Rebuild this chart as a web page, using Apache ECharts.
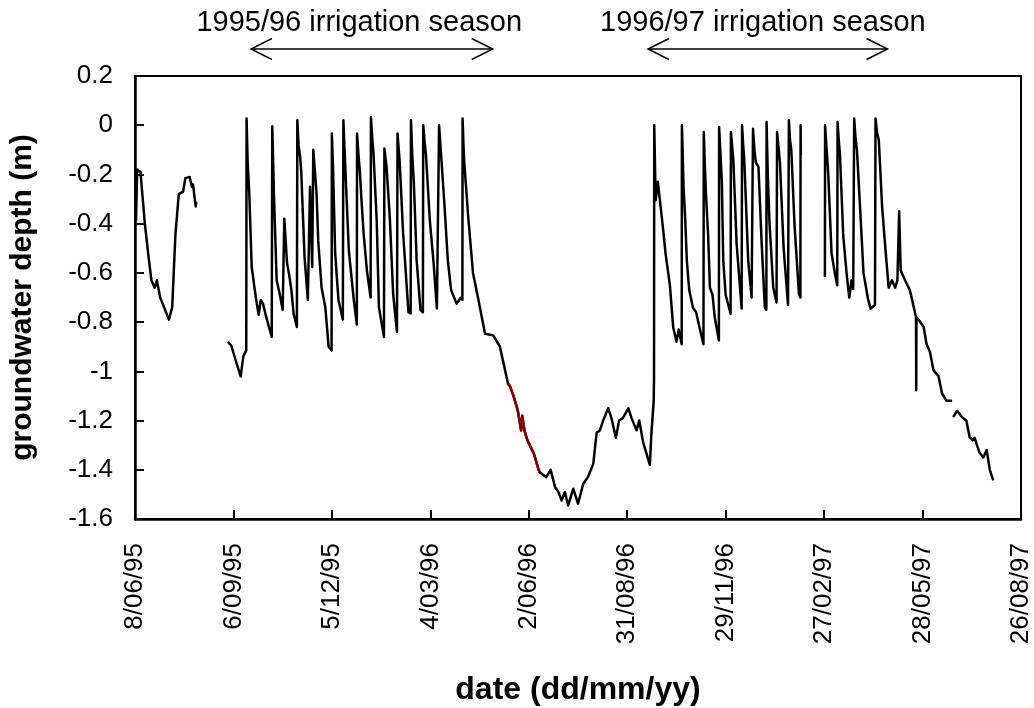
<!DOCTYPE html>
<html><head><meta charset="utf-8">
<script src="https://cdn.jsdelivr.net/npm/echarts@6/dist/echarts.min.js"></script>
<style>html,body{margin:0;padding:0;background:#fff}#c{width:1034px;height:708px}</style>
</head><body><div id="c"></div>
<script>
// days since 8 June 1995
const obsDay = [
 0.9,2,5,9,12,15,18,20,23,27,31,34,37,38,40,44,46,50,52,53,55.5,56,
 70,
 85,88,92,96.6,99,101.7,102,103,104.5,106.7,110,113,115,117,120,125,125.5,126.3,127,129.5,132,135,136.5,139,141,143,145,148,148.4,149.5,
 151,152,155,158,160,162,163,166,167.5,170.6,174,177,179.7,180,181,183,186,190,190.5,192,195.5,200,202.8,203,204.5,205.7,207,209,212,215.4,215.7,
 217,218,221,223,227.6,228,230,233,236,239.5,240,242,245,250,252,252.3,253.5,255,257.5,261,263.2,263.5,264.8,266,269.6,273,276,277.7,278,279.5,
 281,283,286,289,294,298,299.3,299.5,300.3,301,304.6,309,314,320,327.5,333.6,341,342.8,346,350,353,354,356,358.7,362,364.7,367,369,370,
 373,376,380,384,387,390,393,396,400.7,405,409.8,414,419,422,425,428,432.6,435.6,439.6,442.6,446,451,454,458.5,461,464.6,467.7,470.7,472,474.2,474.5,474.7,
 476,478,481,483,485,489,492,495,497,499.8,500,501.5,503,504.5,506.7,510,513,516.5,519.7,520,521,522,524,525.6,528,530,533.8,534,535.3,536.5,537.8,540,544.5,544.8,
 546,547,550,554.6,555,556,557,560.6,563.7,565,566.3,567.5,570,572.8,575.8,577.2,577.4,578.5,580,583.5,586.5,587,588.3,589.6,593,597,597.8,598.8,600,603,607,608.3,608.5,608.7,
 620,
 630.7,630.9,632.2,633.8,636.8,639.8,642,642.3,643.4,644.5,647.5,650.5,653,655,656.6,657.5,658.7,660,663,666,670.3,672.5,676.5,677,678.4,680,683,686,689,692,695,697,698.6,
 700,704,708.4,711.5,714,714.2,714.4,718,721,723.6,726.7,730,734.6,737.8,742,747,
 747.5,
 748,751.6,756,760,763,766,767.6,772,775.6,778.6,781.5,784.6
];
const obsDepth = [
 -0.39,-0.18,-0.19,-0.40,-0.52,-0.63,-0.66,-0.63,-0.70,-0.745,-0.79,-0.74,-0.44,-0.39,-0.28,-0.27,-0.215,-0.21,-0.25,-0.24,-0.33,-0.31,
 null,
 -0.88,-0.895,-0.955,-1.02,-0.94,-0.915,0.027,-0.15,-0.28,-0.576,-0.685,-0.77,-0.71,-0.725,-0.78,-0.86,-0.004,-0.15,-0.28,-0.63,-0.68,-0.75,-0.38,-0.56,-0.61,-0.67,-0.766,-0.82,0.02,-0.08,
 -0.13,-0.19,-0.535,-0.71,-0.25,-0.576,-0.10,-0.28,-0.47,-0.66,-0.74,-0.90,-0.915,-0.034,-0.17,-0.52,-0.71,-0.79,0.02,-0.145,-0.51,-0.71,-0.81,-0.034,-0.13,-0.197,-0.30,-0.44,-0.59,-0.70,0.033,
 -0.06,-0.11,-0.39,-0.74,-0.86,-0.095,-0.17,-0.38,-0.685,-0.84,-0.034,-0.15,-0.43,-0.76,-0.765,0.02,-0.12,-0.24,-0.55,-0.75,-0.76,0.0,-0.07,-0.12,-0.39,-0.56,-0.745,-0.74,0.0,-0.10,
 -0.197,-0.33,-0.55,-0.67,-0.725,-0.70,-0.71,0.027,-0.08,-0.15,-0.37,-0.60,-0.71,-0.847,-0.854,-0.90,-1.05,-1.06,-1.10,-1.16,-1.24,-1.18,-1.24,-1.28,-1.31,-1.335,-1.37,-1.40,-1.41,
 -1.42,-1.43,-1.40,-1.47,-1.49,-1.525,-1.49,-1.545,-1.477,-1.538,-1.457,-1.43,-1.375,-1.25,-1.24,-1.20,-1.15,-1.19,-1.27,-1.20,-1.19,-1.15,-1.19,-1.24,-1.20,-1.29,-1.335,-1.38,-1.26,-1.12,-1.03,0.0,
 -0.305,-0.23,-0.35,-0.43,-0.52,-0.65,-0.82,-0.88,-0.83,-0.89,0.0,-0.25,-0.38,-0.55,-0.67,-0.74,-0.76,-0.83,-0.89,-0.028,-0.17,-0.28,-0.45,-0.66,-0.69,-0.78,-0.875,-0.007,-0.12,-0.23,-0.55,-0.69,-0.766,-0.028,
 -0.09,-0.14,-0.48,-0.745,0.0,-0.08,-0.14,-0.55,-0.70,-0.014,-0.10,-0.15,-0.17,-0.47,-0.74,-0.75,0.013,-0.20,-0.39,-0.66,-0.72,-0.028,-0.09,-0.15,-0.50,-0.73,0.02,-0.06,-0.10,-0.41,-0.685,-0.70,0.0,-0.12,
 null,
 -0.617,0.0,-0.09,-0.20,-0.52,-0.60,-0.65,0.013,-0.06,-0.12,-0.45,-0.60,-0.70,-0.63,-0.665,0.027,-0.05,-0.10,-0.345,-0.60,-0.71,-0.745,-0.73,0.027,-0.03,-0.06,-0.33,-0.50,-0.66,-0.63,-0.66,-0.63,-0.35,
 -0.59,-0.63,-0.67,-0.73,-0.78,-1.077,-0.78,-0.80,-0.82,-0.888,-0.92,-0.996,-1.02,-1.09,-1.12,-1.12,
 null,
 -1.186,-1.16,-1.186,-1.20,-1.267,-1.28,-1.27,-1.33,-1.35,-1.32,-1.40,-1.443
];
const redDay = [341,342.8,346,350,353,354,356,358.7,362,364.7,367,369,370];
const redDepth = [-1.05,-1.06,-1.10,-1.16,-1.24,-1.18,-1.24,-1.28,-1.31,-1.335,-1.37,-1.40,-1.41];

const seasonLabels = ['1995/96 irrigation season', '1996/97 irrigation season'];
const seasonLabelDay = [205, 574];
const seasonStartDay = [106, 469];
const seasonEndDay = [327, 688];

const FONT = '"Liberation Sans", Arial, Helvetica, sans-serif';
function fmtDate(d) {
  const t = new Date(Date.UTC(1995, 5, 8) + Math.round(d) * 86400000);
  return t.getUTCDate() + '/' + String(t.getUTCMonth() + 1).padStart(2, '0') + '/' + String(t.getUTCFullYear()).slice(2);
}
const zip = (a, b) => a.map((v, i) => [v, b[i]]);

const chart = echarts.init(document.getElementById('c'), null, {renderer: 'canvas'});
chart.setOption({
  animation: false,
  backgroundColor: '#fff',
  grid: {left: 135, right: 13, top: 76, bottom: 189, show: true, borderColor: '#000', borderWidth: 2,
         backgroundColor: 'transparent', outerBoundsMode: 'none', containLabel: false},
  xAxis: {
    type: 'value', min: 0, max: 810, interval: 90,
    name: 'date (dd/mm/yy)', nameLocation: 'middle', nameGap: 155,
    nameTextStyle: {fontFamily: FONT, fontWeight: 'bold', fontSize: 32, color: '#000'},
    axisLine: {show: true, onZero: false, lineStyle: {color: '#000', width: 2.5}},
    axisTick: {show: true, inside: true, length: 9, lineStyle: {color: '#000', width: 2}},
    axisLabel: {rotate: 90, margin: 24, fontFamily: FONT, fontSize: 26, color: '#000', formatter: fmtDate},
    splitLine: {show: false}
  },
  yAxis: {
    type: 'value', min: -1.6, max: 0.2, interval: 0.2,
    name: 'groundwater depth (m)', nameLocation: 'middle', nameGap: 97,
    nameTextStyle: {fontFamily: FONT, fontWeight: 'bold', fontSize: 30, color: '#000'},
    axisLine: {show: true, onZero: false, lineStyle: {color: '#000', width: 2.5}},
    axisTick: {show: true, inside: true, length: 9, lineStyle: {color: '#000', width: 2}},
    axisLabel: {margin: 22, fontFamily: FONT, fontSize: 26, color: '#000', formatter: v => String(parseFloat(v.toFixed(1)))},
    splitLine: {show: false}
  },
  series: [
    {type: 'line', data: zip(obsDay, obsDepth), symbol: 'none', showSymbol: false, connectNulls: false,
     lineStyle: {color: '#000', width: 2.5, join: 'round'}, z: 2},
    {type: 'line', data: zip(redDay, redDepth), symbol: 'none', showSymbol: false,
     lineStyle: {color: '#8b0000', width: 2.5, join: 'round'}, z: 3}
  ]
});

function drawAnnotations() {
  const els = [];
  const arrowY = 49, textY = 23;
  seasonLabels.forEach((lab, i) => {
    const cx = chart.convertToPixel({gridIndex: 0}, [seasonLabelDay[i], 0])[0];
    const x1 = chart.convertToPixel({gridIndex: 0}, [seasonStartDay[i], 0])[0];
    const x2 = chart.convertToPixel({gridIndex: 0}, [seasonEndDay[i], 0])[0];
    els.push({type: 'text', x: cx, y: textY, style: {text: lab, fontFamily: FONT, fontSize: 29, fill: '#000', align: 'center', verticalAlign: 'middle'}});
    const ls = {stroke: '#000', lineWidth: 1.5, fill: null};
    els.push({type: 'line', shape: {x1: x1, y1: arrowY, x2: x2, y2: arrowY}, style: ls});
    els.push({type: 'polyline', shape: {points: [[x1 + 21, arrowY - 10.5], [x1, arrowY], [x1 + 21, arrowY + 10.5]]}, style: ls});
    els.push({type: 'polyline', shape: {points: [[x2 - 21, arrowY - 10.5], [x2, arrowY], [x2 - 21, arrowY + 10.5]]}, style: ls});
  });
  chart.setOption({graphic: els});
}
drawAnnotations();
</script>
</body></html>
